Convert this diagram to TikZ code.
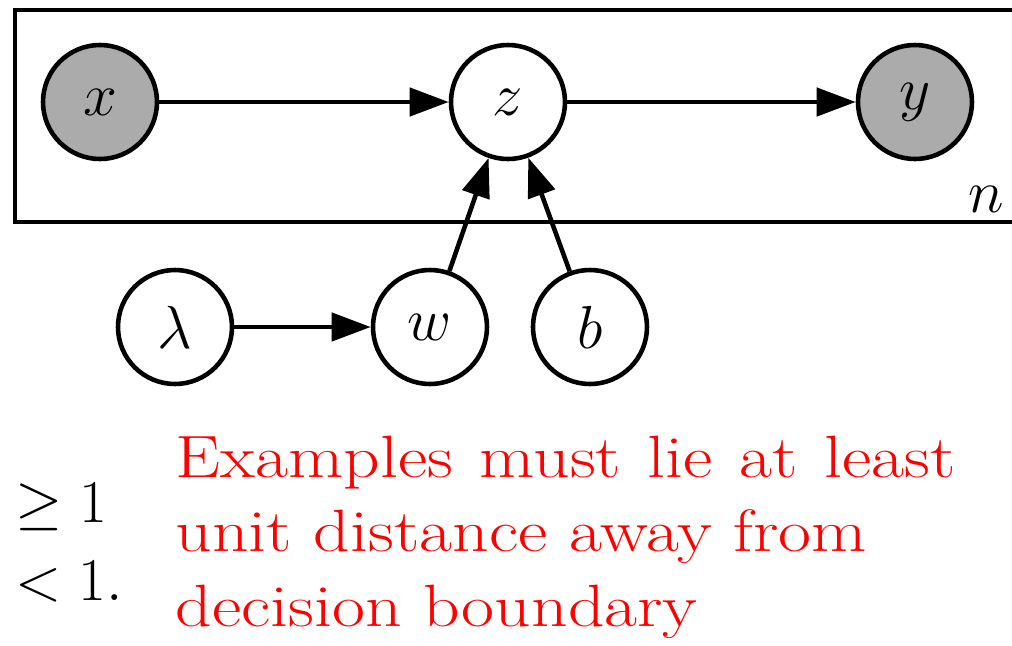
\documentclass[tikz,border=0pt]{standalone}
\usepackage{amsmath,amssymb}
\usepackage{graphicx}
\usepackage{tikz}
\usetikzlibrary{arrows.meta,positioning}

\begin{document}
\begin{tikzpicture}[
  latent/.style={circle, draw, line width=1.3pt, minimum size=1.14cm, inner sep=0pt,
    font=\fontsize{18}{20}\selectfont, fill=white},
  obs/.style={latent, fill=black!33},
  edge/.style={-{Triangle[length=0.39cm,width=0.28cm]}, line width=1.3pt},
  note/.style={font=\fontsize{17}{21.2}\selectfont, inner sep=0pt}
]
\clip (0,0) rectangle (10.12,-6.46);

% Plate
\draw[line width=1.2pt] (0.15,-0.10) rectangle (10.40,-2.22);
\node[note, anchor=base east] (plate) at (10.05,-2.12) {$n$};

% Nodes
\node[obs]    (x)   at (1.00,-1.02) {$x$};
\node[latent] (z)   at (5.08,-1.02) {$z$};
\node[obs]    (y)   at (9.15,-1.02) {$y$};
\node[latent] (lam) at (1.75,-3.27) {$\lambda$};
\node[latent] (w)   at (4.30,-3.27) {$w$};
\node[latent] (b)   at (5.90,-3.27) {$b$};

% Edges
\draw[edge] (x) -- (z);
\draw[edge] (z) -- (y);
\draw[edge] (lam) -- (w);
\draw[edge] (w) -- (z);
\draw[edge] (b) -- (z);

% Margin text
\node[note, anchor=base west] (geq) at (0.15,-5.22) {$\geq 1$};
\node[note, anchor=base west] (less) at (0.15,-6.00) {$< 1.$};
\node[note, anchor=north west, align=left, text=red] (remark) at (1.75,-4.35)
  {\scalebox{1.2}[1]{\makebox[6.5cm][s]{Examples must lie at least}}\\
   \scalebox{1.2}[1]{unit distance away from}\\
   \scalebox{1.2}[1]{decision boundary}};

\end{tikzpicture}
\end{document}
